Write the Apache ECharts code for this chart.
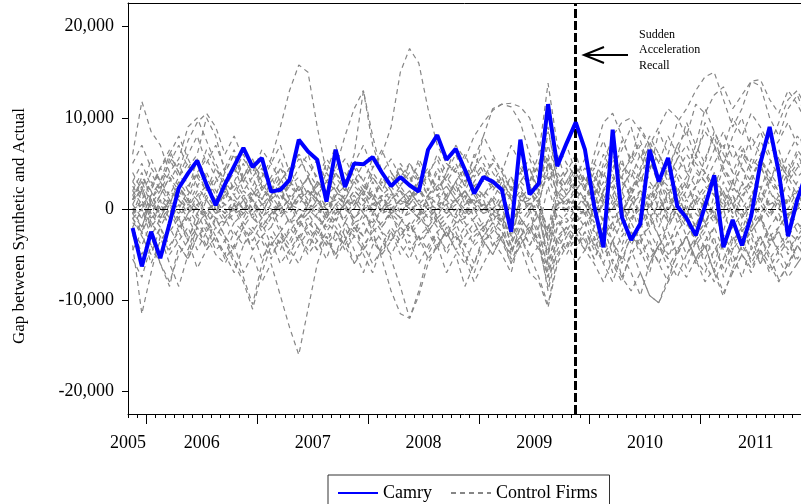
<!DOCTYPE html>
<html>
<head>
<meta charset="UTF-8">
<title>Camry gap vs control firms</title>
<script type="text/javascript" src="https://cdn.jsdelivr.net/npm/echarts@6/dist/echarts.min.js"></script>
<style>html,body{margin:0;padding:0;background:#fff;}</style>
</head>
<body>
	<div id="box" style="width:801px;height:504px;"></div>
	<script type="text/javascript">
		// monthly gap between synthetic and actual, first month = Nov 2005
		var camry = [
			-2100, -6300, -2500, -5400, -1600, 2300, 3900, 5300, 2700, 400,
			2700, 4700, 6700, 4600, 5600, 1900, 2100, 3200, 7600, 6300,
			5400, 800, 6500, 2400, 5000, 4900, 5700, 4000, 2500, 3500,
			2600, 1900, 6500, 8100, 5400, 6600, 4300, 1700, 3500, 3000,
			2100, -2500, 7600, 1600, 2800, 11500, 4700, 7200, 9500, 6500,
			300, -4200, 8700, -900, -3400, -1600, 6500, 3000, 5600, 300,
			-1000, -2900, 300, 3700, -4200, -1200, -4000, -800, 5000, 9000,
			4000, -3000, 1000, 4000
		];

		// control firms, in hundreds
		var ctrl01 = [60,118,85,70,40,55,90,100,75,50, 30,45,20,35,10,25,5,30,15,20, 10,-10,15,5,20,10,-5,15,0,10, 5,20,10,25,15,5,20,40,80,110, 115,112,95,60,40,30,50,70,40,20, 60,95,105,80,50,70,40,85,60,95, 110,130,145,150,120,90,110,140,135,100, 80,110,125,100];
		var ctrl02 = [-40,-115,-70,-30,-60,-85,-50,-20,-40,-10, -30,-55,-75,-105,-60,-30,-45,-20,-35,-15, -25,-40,-10,-30,-15,-50,-70,-40,-20,-35, -20,-5,-25,-10,-30,-15,-40,-60,-30,-15, -35,-50,-20,-40,-25,-70,-30,-45,-20,-35, -55,-30,-60,-80,-45,-70,-95,-103,-75,-50, -30,-60,-40,-70,-96,-65,-40,-55,-30,-50, -78,-60,-40,-55];
		var ctrl03 = [20,40,10,30,50,70,45,60,100,80, 40,60,30,50,35,55,90,130,158,150, 90,40,70,30,60,130,80,40,25,45, 30,50,20,40,10,30,45,25,15,30, 20,35,10,25,50,90,30,15,35,20, 40,10,30,55,20,45,70,30,55,40, 25,60,85,70,40,20,50,80,60,30, 55,30,45,60];
		var ctrl04 = [-10,-30,-50,-20,-40,-25,-45,-15,-30,-50, -60,-40,-70,-50,-80,-60,-95,-130,-160,-110, -60,-30,-50,-20,-45,-70,-40,-25,-55,-85, -120,-90,-50,-30,-45,-25,-50,-70,-40,-20, -35,-60,-30,-50,-75,-105,-55,-30,-45,-25, -40,-20,-50,-30,-15,-35,-60,-40,-25,-50, -30,-55,-35,-20,-45,-70,-50,-30,-60,-40, -25,-45,-30,-50];
		var ctrl05 = [10,30,20,45,60,40,75,95,105,90, 60,80,55,40,65,50,30,45,60,50, 35,55,40,25,50,70,45,60,90,150, 176,160,110,70,50,40,60,35,50,30, 45,20,40,55,30,60,25,40,20,35, 15,50,80,95,100,85,70,90,110,100, 80,115,105,125,134,110,125,140,142,120, 105,130,115,95];
		var ctrl06 = [-20,-50,-30,-60,-85,-40,-55,-30,-20,-45, -35,-60,-80,-110,-70,-40,-25,-50,-30,-45, -20,-35,-50,-30,-60,-40,-25,-55,-90,-115, -120,-95,-60,-40,-70,-50,-85,-60,-35,-50, -30,-55,-40,-70,-80,-108,-60,-40,-25,-45, -30,-60,-80,-50,-70,-95,-60,-40,-55,-75, -50,-35,-60,-80,-55,-30,-50,-70,-45,-60, -80,-60,-40,-55];
		var ctrl07 = [30,15,40,20,55,35,60,80,50,70, 45,65,35,55,30,50,70,40,60,35, 55,30,45,80,110,130,70,40,55,35, 50,30,45,20,40,60,35,55,80,60, 40,70,50,30,60,138,70,50,35,55, 30,60,40,75,55,90,70,50,80,60, 95,70,110,85,65,100,80,105,90,70, 95,120,130,110];
		var ctrl08 = [0,-20,10,25,5,30,15,40,20,35, 10,30,50,25,45,20,35,10,25,5, 30,15,40,20,50,30,10,35,20,45, 25,55,35,60,40,70,55,80,95,108, 115,116,112,100,70,40,60,30,50,25, 45,20,55,35,60,40,75,50,30,55, 40,70,50,85,60,40,65,45,75,55, 35,60,80,65];
		var ctrl09 = [-5,20,-15,10,-25,-10,-35,-20,-45,-30, -55,-40,-20,-45,-30,-50,-35,-60,-40,-25, -45,-30,-55,-35,-20,-40,-60,-45,-25,-50, -35,-60,-40,-25,-50,-30,-55,-80,-60,-40, -25,-45,-30,-55,-40,-75,-50,-35,-60,-45, -60,-80,-55,-75,-90,-70,-95,-103,-80,-60, -75,-55,-80,-65,-92,-70,-50,-65,-45,-70, -55,-75,-60,-45];
		var ctrl10 = [5,-10,15,0,20,10,-5,15,25,10, -5,10,0,20,5,-10,10,25,15,0, 10,-5,15,5,20,10,0,15,-5,10, 20,5,15,-10,0,10,20,5,-5,15, 0,-20,10,5,15,-40,20,10,0,15, -10,20,30,5,-15,10,25,0,15,-5, -20,10,25,15,-10,5,20,30,10,-5, 15,25,5,10];
		var ctrl11 = [-15,-25,-5,-20,0,-10,-30,-15,-5,-20, -10,5,-15,-25,-10,0,-20,-35,-15,-5, -20,-10,5,-15,-25,-5,-15,0,-10,-20, -30,-15,-5,-20,-10,0,-15,-30,-20,-5, -15,-35,-10,-25,-5,-60,-20,-10,-25,-15, -5,-30,-15,5,-25,-40,-10,-30,-20,0, -15,-35,-20,-5,-30,-45,-15,-25,-10,-30, -20,-5,-25,-15];
		var ctrl12 = [25,10,30,15,35,20,5,25,40,20, 10,30,15,0,20,35,15,5,25,10, 30,20,5,15,35,25,10,30,15,20, 5,25,35,15,10,30,20,0,15,25, 35,10,30,20,5,50,15,30,20,10, 35,15,0,25,40,20,10,35,25,5, 20,40,30,15,45,25,10,35,55,30, 20,40,25,15];
		var ctrl13 = [-5,10,-20,5,-10,15,0,-15,10,-5, 20,5,-10,10,-5,15,0,10,-20,5, -10,10,0,-15,5,20,-5,10,0,-10, 15,0,-20,5,10,-5,15,-10,0,10, -15,5,20,-5,10,-30,5,15,-10,0, 20,-15,10,-25,5,15,-20,10,-5,25, 0,-20,15,-10,30,5,-25,10,-15,20, 5,-10,15,0];
		var ctrl14 = [10,35,20,45,30,50,25,40,55,35, 20,45,30,15,40,25,10,30,20,35, 15,30,20,40,25,15,35,20,10,25, 40,30,15,25,35,20,10,30,45,25, 15,35,20,10,30,70,35,20,40,25, 10,45,60,30,15,40,55,25,45,20, 35,60,40,25,50,70,45,30,55,40, 25,50,35,45];
		var ctrl15 = [-30,-15,-40,-20,-50,-35,-20,-45,-25,-10, -30,-45,-20,-35,-15,-40,-25,-10,-30,-20, -35,-15,-25,-40,-20,-30,-10,-25,-35,-15, -20,-30,-45,-25,-15,-35,-20,-40,-30,-15, -25,-45,-30,-15,-35,-75,-30,-20,-40,-25, -45,-20,-35,-55,-30,-15,-40,-60,-35,-25, -50,-30,-15,-40,-65,-35,-20,-45,-30,-55, -40,-25,-35,-20];
		var ctrl16 = [0,5,-5,10,0,-10,5,0,-5,10, 5,-5,0,10,-10,5,0,-5,10,5, 0,-10,5,0,10,-5,5,0,-5,10, 0,5,-10,0,5,10,-5,0,5,-5, 10,0,-5,5,0,-20,5,10,0,-5, 5,15,-10,0,10,-5,5,15,-10,5, 0,10,-15,5,20,-5,0,15,-10,5, 10,-5,0,5];
		var ctrl17 = [40,20,55,30,15,35,50,25,10,30, 45,20,35,55,25,10,30,45,20,35, 15,40,25,10,30,50,35,20,40,25, 10,35,20,45,30,15,40,25,35,50, 30,15,40,25,10,-25,30,45,20,35, 15,40,20,50,35,60,30,15,45,70, 40,25,55,80,45,30,60,40,20,50, 65,35,50,30];
		var ctrl18 = [-45,-25,-60,-35,-20,-40,-55,-30,-15,-35, -50,-25,-40,-20,-35,-55,-30,-45,-60,-35, -20,-40,-25,-45,-30,-15,-35,-50,-25,-40, -55,-30,-20,-40,-25,-45,-30,-15,-35,-50, -30,-60,-40,-20,-35,-90,-45,-25,-40,-30, -55,-35,-70,-45,-25,-50,-35,-60,-80,-45, -30,-55,-40,-70,-35,-50,-75,-40,-60,-30, -45,-65,-40,-55];
		var ctrl19 = [15,0,20,-10,10,25,5,-5,15,0, -15,5,20,10,-5,15,30,10,-10,5, 20,0,-15,10,5,25,15,-5,10,20, 0,-10,15,5,25,10,-5,20,10,-15, 5,-45,15,0,20,35,10,-5,15,5, -20,10,25,-5,15,35,0,20,-15,10, 25,5,-20,15,0,30,10,-10,20,5, -15,15,0,25];
		var ctrl20 = [-10,-25,0,-15,5,-20,-5,10,-10,-30, -15,0,-20,-5,-25,-10,5,-15,0,-20, -5,-25,-10,5,-15,-30,-5,-20,0,-10, -25,-10,5,-15,-30,-5,-20,-10,-25,0, -15,-50,-20,-5,-30,-45,-15,-25,-5,-20, 0,-30,-15,-40,-10,5,-25,-45,-15,-5, -30,-15,-45,-20,0,-35,-25,-10,-40,-20, -5,-30,-15,-25];
		var ctrl21 = [30,50,25,45,65,40,20,55,35,15, 40,60,30,50,20,35,55,25,45,60, 30,15,40,55,35,20,45,65,40,25, 50,35,15,30,50,40,25,45,30,55, 40,20,45,30,50,55,25,40,60,30, 50,75,45,65,90,55,80,60,40,70, 85,55,95,70,50,80,100,65,85,60, 75,95,70,85];
		var ctrl22 = [-20,0,-30,-10,10,-15,-35,-5,-25,5, -10,-30,-15,0,-20,-5,-25,-40,-20,-10, -30,-5,-20,-35,-10,0,-25,-15,-5,-30, -15,-40,-25,-10,-30,-20,0,-15,-35,-25, -10,-30,-15,-40,-20,25,-10,-30,-15,-5, -35,-10,-25,0,-40,-20,-5,-30,-55,-25, -10,-40,-25,-60,-30,-15,-45,-20,-5,-35, -25,-50,-30,-15];
		var ctrl23 = [50,70,45,30,60,80,55,35,65,45, 25,40,60,35,50,20,45,35,55,40, 25,50,35,20,45,30,55,40,25,50, 35,20,40,55,30,45,25,60,40,20, 35,10,30,45,20,50,35,15,30,45, 25,10,35,20,45,30,55,35,20,40, 60,45,30,50,70,40,25,55,45,30, 50,35,60,40];
		var ctrl24 = [-55,-75,-40,-60,-80,-50,-35,-65,-45,-30, -50,-70,-40,-25,-55,-35,-60,-45,-30,-50, -35,-55,-25,-40,-60,-45,-30,-50,-35,-20, -45,-30,-55,-40,-25,-45,-60,-35,-20,-40, -30,-15,-40,-25,-45,-20,-35,-50,-30,-15, -40,-60,-35,-75,-50,-30,-55,-40,-65,-45, -30,-55,-70,-45,-30,-60,-40,-25,-50,-65, -45,-30,-55,-40];
		var ctrl25 = [5,25,-5,15,35,10,0,20,-10,10, 25,5,-5,15,30,10,20,0,15,35, 10,-5,20,5,15,0,30,10,20,-5, 10,25,5,-10,15,30,5,20,0,10, 30,-20,5,20,0,-55,15,5,25,10, -5,20,40,10,25,-10,15,35,5,20, -10,25,5,40,15,-5,30,10,50,20, 0,35,15,5];
		var ctrl26 = [0,-10,5,-5,10,0,-15,5,10,-5, 5,15,0,-10,5,10,-5,0,15,5, -5,5,10,0,-10,5,15,-5,0,10, 5,-5,10,15,0,-10,5,10,-5,0, 15,-30,5,10,-10,-50,0,10,5,-5, 10,-15,5,20,-10,0,15,-20,5,10, -5,15,0,-15,20,5,-10,10,25,0, -15,10,20,5];
		var ctrl27 = [-10,0,-20,-5,-15,5,-10,-20,0,-10, -15,-5,10,-10,-20,-5,5,-15,-10,0, -10,-20,-5,5,-15,-10,0,-20,-5,-15, 0,-10,-20,-5,5,-15,-10,0,-20,-10, -5,-40,-15,0,-25,-65,-20,-5,-15,0, -25,-10,-35,-15,5,-30,-20,-5,-40,-15, -5,-30,-15,0,-35,-20,-5,-25,-10,-40, -20,-5,-15,-30];
		var ctrl28 = [20,5,15,30,10,0,20,10,25,5, 15,25,10,20,5,15,25,0,10,20, 5,15,25,10,0,20,5,15,25,10, 20,5,0,15,25,10,20,5,15,0, 10,25,5,20,30,55,15,5,20,10, 25,5,15,35,10,20,0,30,15,35, 10,25,40,15,5,30,45,20,10,35, 20,5,30,15];
		var ctrl29 = [-5,-20,10,-10,0,-25,-5,5,-15,-5, 0,-15,-5,5,-10,-20,0,10,-10,-5, 5,-15,0,-10,10,-5,-20,0,5,-10, -5,10,0,-15,-5,5,-10,15,0,-5, -20,10,-10,-25,5,-35,-5,-15,0,5, -15,10,-25,-5,15,-20,5,-10,20,-15, 5,-20,10,-5,-25,15,0,-20,5,-10, 10,-15,0,-5];
		var ctrl30 = [10,20,0,15,5,25,10,0,20,15, 5,0,15,10,25,5,-5,15,5,20, 10,0,15,25,5,10,20,0,15,5, 10,20,5,0,15,25,10,5,20,10, 0,15,25,5,10,40,20,0,10,25, 5,30,10,-5,20,40,10,25,0,15, 30,5,20,35,10,-10,15,25,5,30, 15,0,20,10];
		var ctrl31 = [-25,-40,-15,-30,-45,-20,-10,-30,-40,-20, -35,-15,-25,-45,-30,-20,-40,-25,-10,-30, -45,-25,-35,-15,-30,-45,-20,-35,-50,-30, -15,-35,-25,-45,-20,-30,-40,-25,-15,-35, -50,-70,-30,-20,-40,-85,-35,-20,-30,-45, -20,-50,-35,-60,-25,-45,-70,-30,-50,-40, -65,-35,-55,-30,-75,-45,-30,-60,-40,-25, -50,-35,-60,-45];
		var ctrl32 = [15,30,5,20,40,25,10,35,20,45, 30,15,35,20,10,30,45,25,35,15, 25,40,20,10,30,15,40,25,35,20, 10,30,40,20,35,50,30,45,60,40, 25,10,30,45,15,85,40,25,45,30, 50,35,65,40,55,75,45,60,35,55, 70,50,40,65,85,55,70,45,60,80, 55,40,65,50];
		var ctrl33 = [-5,5,-10,0,5,-5,10,-10,0,5, -5,0,10,-5,5,0,-10,5,0,-5, 10,0,-5,5,-10,0,5,10,-5,0, 5,-10,0,5,-5,10,0,-5,5,0, -10,-25,0,5,-10,-30,5,0,-5,10, -10,5,15,-5,0,20,-10,5,-15,0, 10,-5,-15,5,0,15,-10,5,-5,10, 0,-10,5,0];

		var controls = [ctrl01, ctrl02, ctrl03, ctrl04, ctrl05, ctrl06, ctrl07, ctrl08, ctrl09, ctrl10,
			ctrl11, ctrl12, ctrl13, ctrl14, ctrl15, ctrl16, ctrl17, ctrl18, ctrl19, ctrl20,
			ctrl21, ctrl22, ctrl23, ctrl24, ctrl25, ctrl26, ctrl27, ctrl28, ctrl29, ctrl30,
			ctrl31, ctrl32, ctrl33];

		var yearLabels = ['2005', '2006', '2007', '2008', '2009', '2010', '2011'];
		var yearLabelAt = [0, 8, 20, 32, 44, 56, 68];   // mid-year, months from Nov 2005
		var yearStartAt = [2, 14, 26, 38, 50, 62];      // January boundaries
		var yTicks = [-20000, -10000, 0, 10000, 20000];
		var recallMonth = 48;
		var xMax = 72.9;   // the plot runs past the right edge of the picture

		var monthTicks = [];
		for (var m = 0; m <= Math.floor(xMax); m++) monthTicks.push(m);

		var serif = '"Liberation Serif", "Times New Roman", serif';
		var yMin = -22500, yMax = 22600;

		var series = [];
		controls.forEach(function (arr, k) {
			series.push({
				name: 'Control Firms',
				type: 'line',
				symbol: 'none',
				clip: true,
				lineStyle: { color: '#868686', width: 1.2, type: [5, 4] },
				itemStyle: { color: '#868686' },
				data: arr.map(function (v, i) { return [i + 0.5, v * 100]; }),
				markLine: k === controls.length - 1 ? {
					silent: true, symbol: ['none', 'none'], label: { show: false },
					lineStyle: { color: '#000', width: 1, type: [8, 3, 2, 3] },
					data: [{ yAxis: 0 }]
				} : undefined
			});
		});
		series.push({
			name: 'Camry',
			type: 'line',
			symbol: 'none',
			clip: true,
			z: 5,
			lineStyle: { color: '#0000ff', width: 4 },
			itemStyle: { color: '#0000ff' },
			data: camry.map(function (v, i) { return [i + 0.5, v]; }),
			markLine: {
				silent: true, symbol: ['none', 'none'], label: { show: false },
				lineStyle: { color: '#000', width: 3, type: [9, 3] },
				data: [{ xAxis: recallMonth + 0.5 }]
			}
		});

		function bareX(extra) {
			var a = { type: 'value', min: 0, max: xMax, position: 'bottom',
				axisLine: { show: false, onZero: false }, axisTick: { show: false },
				axisLabel: { show: false }, splitLine: { show: false } };
			for (var key in extra) a[key] = extra[key];
			return a;
		}

		var mychart = echarts.init(document.getElementById('box'));
		var option = {
			animation: false,
			textStyle: { fontFamily: serif },
			grid: { left: 128, top: 3, right: 0, bottom: 90 },
			legend: {
				data: ['Camry', 'Control Firms'],
				left: 328, top: 475,
				padding: [9, 12, 20, 9],
				itemWidth: 40, itemHeight: 14, itemGap: 18,
				itemStyle: { color: 'rgba(0,0,0,0)', borderWidth: 0, opacity: 0 },
				borderColor: '#333', borderWidth: 1,
				textStyle: { fontFamily: serif, fontSize: 18, color: '#000' }
			},
			xAxis: [
				bareX({
					axisLine: { show: true, onZero: false, lineStyle: { color: '#000', width: 1 } },
					axisLabel: {
						customValues: yearLabelAt, showMinLabel: true, margin: 20,
						fontFamily: serif, fontSize: 18, color: '#000',
						formatter: function (v) { return yearLabels[yearLabelAt.indexOf(v)] || ''; }
					}
				}),
				bareX({ axisTick: { show: true, customValues: monthTicks, length: 4, lineStyle: { color: '#000' } } }),
				bareX({ axisTick: { show: true, customValues: yearStartAt, length: 10, lineStyle: { color: '#000' } } }),
				bareX({ position: 'top', axisLine: { show: true, onZero: false, lineStyle: { color: '#000', width: 1 } } })
			],
			yAxis: [{
				type: 'value', min: yMin, max: yMax, position: 'left',
				axisLine: { show: true, onZero: false, lineStyle: { color: '#000', width: 1 } },
				axisTick: { show: false },
				axisLabel: {
					customValues: yTicks, margin: 14,
					fontFamily: serif, fontSize: 18, color: '#000',
					formatter: function (v) { return v.toLocaleString('en-US'); }
				},
				splitLine: { show: false }
			}, {
				type: 'value', min: yMin, max: yMax, position: 'left',
				axisLine: { show: false, onZero: false },
				axisTick: { show: true, customValues: yTicks, length: 6, lineStyle: { color: '#000' } },
				axisLabel: { show: false },
				splitLine: { show: false }
			}],
			graphic: [
				{ type: 'text', x: 20, y: 226, rotation: Math.PI / 2,
				  style: { text: 'Gap between Synthetic and Actual', font: '17px ' + serif, fill: '#000', align: 'center', verticalAlign: 'middle' } },
				{ type: 'text', x: 639, y: 27,
				  style: { text: 'Sudden\nAcceleration\nRecall', font: '12px ' + serif, lineHeight: 15.5, fill: '#000', align: 'left', verticalAlign: 'top' } },
				{ type: 'line', shape: { x1: 584, y1: 55, x2: 628, y2: 55 }, style: { stroke: '#000', lineWidth: 2 } },
				{ type: 'polyline', shape: { points: [[604, 47], [584, 55], [604, 63]] }, style: { stroke: '#000', lineWidth: 2, fill: null } }
			],
			series: series
		};
		mychart.setOption(option);
	</script>
</body>
</html>
